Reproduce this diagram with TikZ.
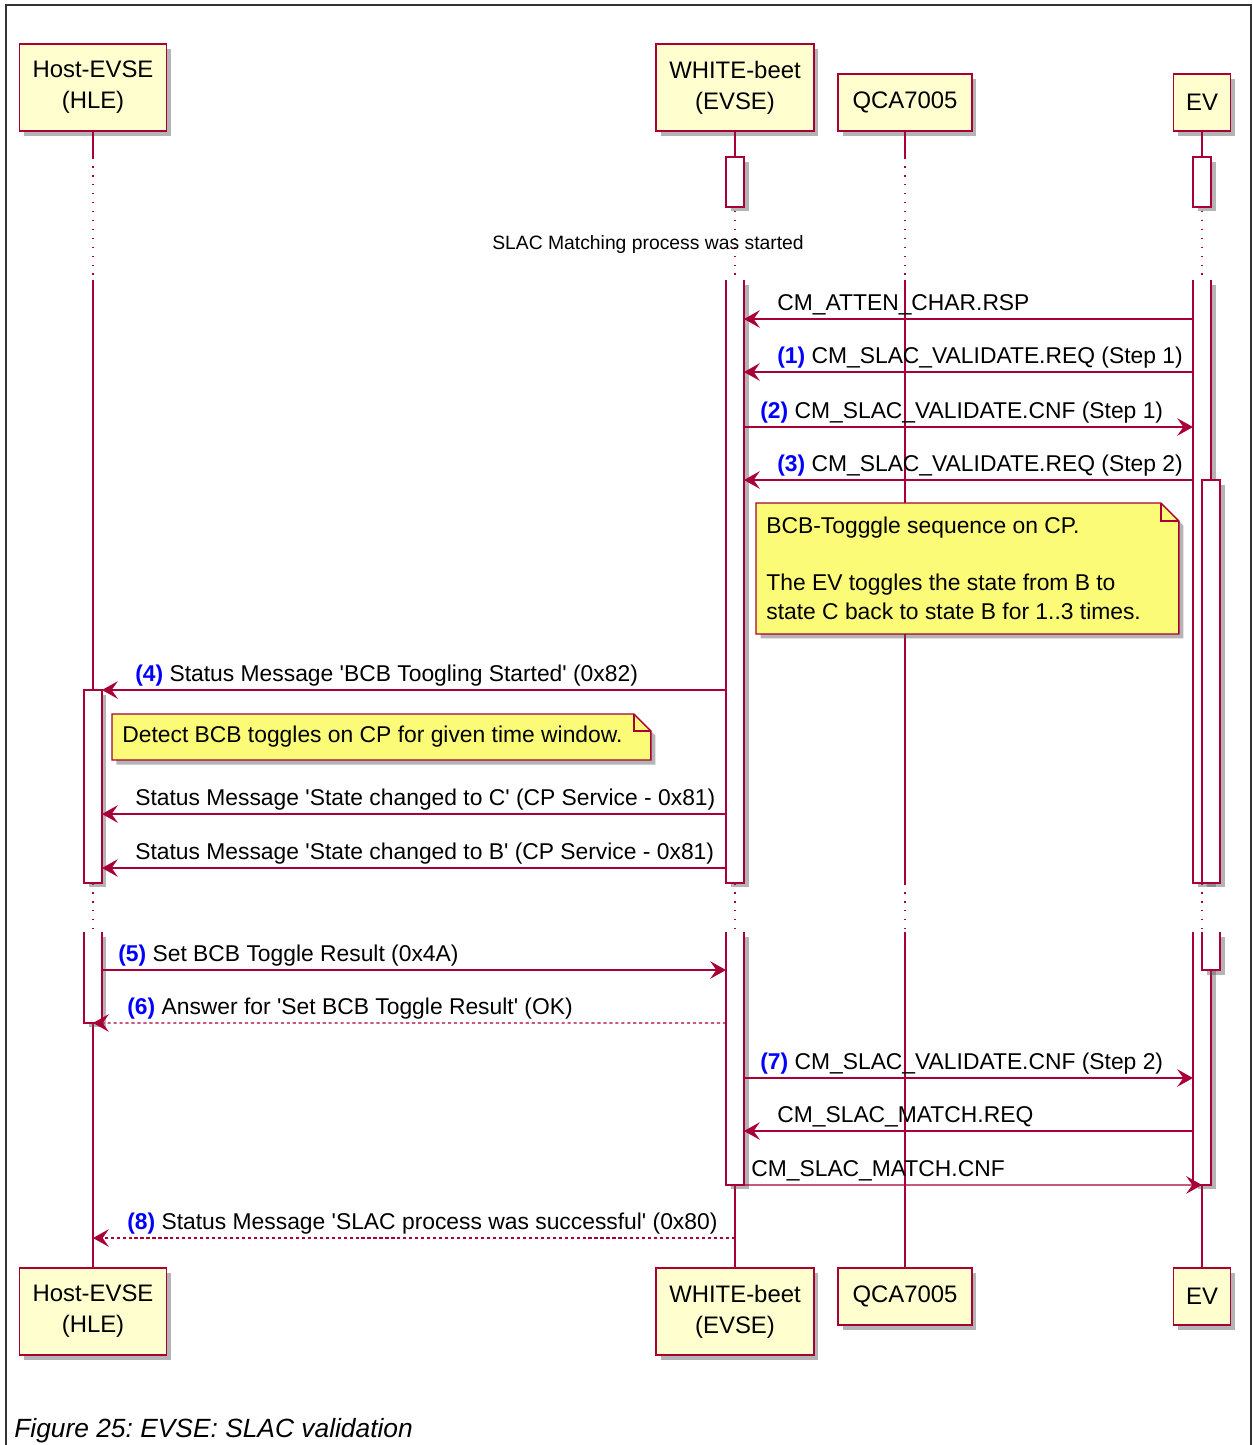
\documentclass[tikz,border=0pt]{standalone}
\usepackage{fontspec}
\setmainfont{Liberation Sans}
\usetikzlibrary{arrows.meta,shadows}

\definecolor{umlred}{HTML}{A80036}
\definecolor{partbg}{HTML}{FEFECE}
\definecolor{notebg}{HTML}{FBFB77}
\definecolor{numblue}{HTML}{0000FF}

\newcommand{\stepno}[1]{\textcolor{numblue}{\textbf{(#1)}}}
\newcommand{\q}{\textquotesingle}
\frenchspacing

\tikzset{
  umlshadow/.style={drop shadow={shadow xshift=0.09cm, shadow yshift=-0.09cm, opacity=0.45, fill=black!65}},
  part/.style={draw=umlred, fill=partbg, line width=0.9pt, align=center, inner sep=0pt, outer sep=0pt,
    font=\fontsize{13.6}{17.6}\selectfont, umlshadow},
  act/.style={draw=umlred, fill=white, line width=0.7pt, minimum width=0.36cm, inner sep=0pt, outer sep=0pt,
    anchor=north, umlshadow},
  actopen/.style={act, draw=none},
  actedge/.style={draw=umlred, line width=0.7pt},
  life/.style={draw=umlred, line width=0.6pt},
  lifedot/.style={life, dash pattern=on 0.9pt off 4.2pt},
  msg/.style={draw=umlred, line width=0.8pt, -{Stealth[length=9pt,width=10pt,inset=3.5pt]}},
  ret/.style={msg, dash pattern=on 1.8pt off 1.6pt},
  lbl/.style={anchor=base west, inner sep=0pt, font=\fontsize{13}{15}\selectfont},
  notespace/.style={anchor=north west, inner sep=0pt, outer sep=0pt},
  notebox/.style={draw=umlred, fill=notebg, line width=0.8pt, umlshadow},
  notefold/.style={draw=umlred, line width=0.8pt},
  notetext/.style={anchor=west, align=left, inner xsep=0.2cm, inner ysep=0pt, font=\fontsize{13}{16.3}\selectfont},
  frame/.style={draw=black!80, line width=0.7pt}
}

\begin{document}
\begin{tikzpicture}[x=0.02cm, y=-0.02cm]
\useasboundingbox (0,0) rectangle (1253,1445);
\draw[frame] (6,1445) -- (6,5) -- (1251,5) -- (1251,1445);

% participants
\node[part, minimum width=2.94cm, minimum height=1.74cm, anchor=south] (hle) at (93,131) {Host-EVSE\\(HLE)};
\node[part, minimum width=3.16cm, minimum height=1.74cm, anchor=south] (wb) at (735,131) {WHITE-beet\\(EVSE)};
\node[part, minimum width=2.68cm, minimum height=1.14cm, anchor=south] (qca) at (905,131) {QCA7005};
\node[part, minimum width=1.14cm, minimum height=1.14cm, anchor=south] (ev) at (1202,131) {EV};

\node[part, minimum width=2.94cm, minimum height=1.74cm, anchor=north] (hleB) at (93,1268) {Host-EVSE\\(HLE)};
\node[part, minimum width=3.16cm, minimum height=1.74cm, anchor=north] (wbB) at (735,1268) {WHITE-beet\\(EVSE)};
\node[part, minimum width=2.68cm, minimum height=1.14cm, anchor=north] (qcaB) at (905,1268) {QCA7005};
\node[part, minimum width=1.14cm, minimum height=1.14cm, anchor=north] (evB) at (1202,1268) {EV};

% lifelines with the two delays
\coordinate (d1) at (0,157);
\coordinate (d2) at (0,280);
\coordinate (d3) at (0,883);
\coordinate (d4) at (0,932);
\foreach \pa/\pb in {hle/hleB, wb/wbB, qca/qcaB, ev/evB} {
  \draw[life] (\pa.south) -- (\pa.south |- d1);
  \draw[lifedot] (\pa.south |- d1) -- (\pa.south |- d2);
  \draw[life] (\pa.south |- d2) -- (\pa.south |- d3);
  \draw[lifedot] (\pa.south |- d3) -- (\pa.south |- d4);
  \draw[life] (\pa.south |- d4) -- (\pb.north);
}

\node[font=\fontsize{11}{13}\selectfont] (delay) at (648,244) {SLAC Matching process was started};

% activations
\node[act, minimum height=1cm] (wbA0) at (735,157) {};
\node[act, minimum height=1cm] (evA0) at (1202,157) {};
\node[actopen, minimum height=12.06cm] (wbA1) at (735,280) {};
\draw[actedge] (wbA1.north west) |- (wbA1.south east) -- (wbA1.north east);
\node[actopen, minimum height=12.06cm] (evA1) at (1202,280) {};
\draw[actedge] (evA1.north west) |- (evA1.south east) -- (evA1.north east);
\node[act, minimum height=3.86cm] (hA1) at (93,690) {};
\node[act, minimum height=8.06cm] (evN1) at (1211,480) {};
\node[actopen, minimum height=1.82cm] (hA2) at (93,932) {};
\draw[actedge] (hA2.north west) |- (hA2.south east) -- (hA2.north east);
\node[actopen, minimum height=5.06cm] (wbA2) at (735,932) {};
\draw[actedge] (wbA2.north west) |- (wbA2.south east) -- (wbA2.north east);
\node[actopen, minimum height=5.06cm] (evA2) at (1202,932) {};
\draw[actedge] (evA2.north west) |- (evA2.south east) -- (evA2.north east);
\node[actopen, minimum height=0.76cm] (evN2) at (1211,932) {};
\draw[actedge] (evN2.north west) |- (evN2.south east) -- (evN2.north east);

% messages
\foreach \n/\y in {1/319, 2/372, 3/427, 4/480, 5/690, 6/814, 7/868, 8/970, 9/1023, 10/1078, 11/1131, 12/1185, 13/1238}
  \coordinate (m\n) at (0,\y);

\draw[msg] (evA1.west |- m1) -- (wbA1.east |- m1);
\node[lbl] (t1) at (777,310) {CM\_ATTEN\_CHAR.RSP};
\draw[msg] (evA1.west |- m2) -- (wbA1.east |- m2);
\node[lbl] (t2) at (777,363) {\stepno{1} CM\_SLAC\_VALIDATE.REQ (Step 1)};
\draw[msg] (wbA1.east |- m3) -- (evA1.west |- m3);
\node[lbl] (t3) at (760,418) {\stepno{2} CM\_SLAC\_VALIDATE.CNF (Step 1)};
\draw[msg] (evA1.west |- m4) -- (wbA1.east |- m4);
\node[lbl] (t4) at (777,471) {\stepno{3} CM\_SLAC\_VALIDATE.REQ (Step 2)};

\draw[msg] (wbA1.west |- m5) -- (hA1.east |- m5);
\node[lbl] (t5) at (135,681) {\stepno{4} Status Message \q BCB Toogling Started\q{} (0x82)};
\draw[msg] (wbA1.west |- m6) -- (hA1.east |- m6);
\node[lbl] (t6) at (135,805) {Status Message \q State changed to C\q{} (CP Service - 0x81)};
\draw[msg] (wbA1.west |- m7) -- (hA1.east |- m7);
\node[lbl] (t7) at (135,859) {Status Message \q State changed to B\q{} (CP Service - 0x81)};

\draw[msg] (hA2.east |- m8) -- (wbA2.west |- m8);
\node[lbl] (t8) at (118,961) {\stepno{5} Set BCB Toggle Result (0x4A)};
\draw[ret] (wbA2.west |- m9) -- (hA2.south);
\node[lbl] (t9) at (127,1014) {\stepno{6} Answer for \q Set BCB Toggle Result\q{} (OK)};

\draw[msg] (wbA2.east |- m10) -- (evA2.west |- m10);
\node[lbl] (t10) at (760,1069) {\stepno{7} CM\_SLAC\_VALIDATE.CNF (Step 2)};
\draw[msg] (evA2.west |- m11) -- (wbA2.east |- m11);
\node[lbl] (t11) at (777,1122) {CM\_SLAC\_MATCH.REQ};
\draw[msg] (wbA2.east |- m12) -- (evA2.south);
\node[lbl] (t12) at (751,1176) {CM\_SLAC\_MATCH.CNF};
\draw[ret] (wbA2.south |- m13) -- (hA2.south |- m13);
\node[lbl] (t13) at (127,1229) {\stepno{8} Status Message \q SLAC process was successful\q{} (0x80)};

% notes
\node[notespace, minimum width=8.46cm, minimum height=2.62cm] (n1) at (756,503) {};
\draw[notebox] (n1.north west) -- ([xshift=-0.36cm]n1.north east) -- ([yshift=-0.36cm]n1.north east)
  -- (n1.south east) -- (n1.south west) -- cycle;
\draw[notefold] ([xshift=-0.36cm]n1.north east) |- ([yshift=-0.36cm]n1.north east);
\node[notetext] (n1t) at (n1.west) {BCB-Togggle sequence on CP.\\[16.3pt]The EV toggles the state from B to\\state C back to state B for 1..3 times.};

\node[notespace, minimum width=10.78cm, minimum height=0.92cm] (n2) at (112,714) {};
\draw[notebox] (n2.north west) -- ([xshift=-0.34cm]n2.north east) -- ([yshift=-0.34cm]n2.north east)
  -- (n2.south east) -- (n2.south west) -- cycle;
\draw[notefold] ([xshift=-0.34cm]n2.north east) |- ([yshift=-0.34cm]n2.north east);
\node[notetext] (n2t) at (n2.west) {Detect BCB toggles on CP for given time window.};

\node[anchor=base west, inner sep=0pt, font=\fontsize{15}{18}\selectfont\itshape] (cap) at (14,1437) {Figure 25: EVSE: SLAC validation};
\end{tikzpicture}
\end{document}
